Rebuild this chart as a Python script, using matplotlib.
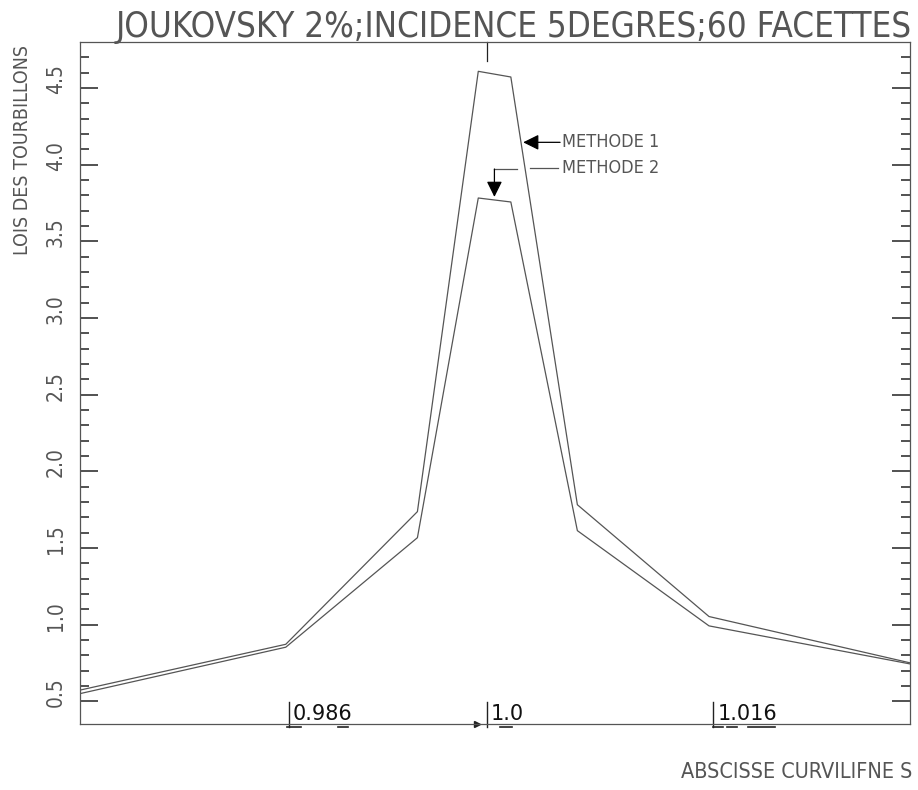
import matplotlib
matplotlib.use("Agg")
import matplotlib.pyplot as plt
import matplotlib.transforms as mtransforms
import numpy as np

# abscisse curviligne des points de controle
s = [0.9713, 0.9858, 0.9951, 0.9994, 1.0017, 1.0064, 1.0157, 1.0299]
methode1 = [0.575, 0.873, 1.738, 4.609, 4.572, 1.783, 1.054, 0.752]
methode2 = [0.552, 0.854, 1.568, 3.783, 3.757, 1.614, 0.993, 0.745]

x_marks = [0.986, 1.0, 1.016]
x_mark_labels = ["0.986", "1.0", "1.016"]
y_major = [0.5, 1.0, 1.5, 2.0, 2.5, 3.0, 3.5, 4.0, 4.5]
y_minor = [round(0.5 + 0.1 * i, 1) for i in range(43)]

grey = "#555555"
thin = dict(family="DejaVu Sans", stretch="condensed", weight="light", color=grey)

fig = plt.figure(figsize=(9.18, 7.90), dpi=100)
ax = fig.add_axes([0.0871, 0.0835, 0.9042, 0.8633])

ax.plot(s, methode1, color=grey, lw=0.9)
ax.plot(s, methode2, color=grey, lw=0.9)

ax.set_xlim(0.97126, 1.0299)
ax.set_ylim(0.353, 4.80)

for sp in ax.spines.values():
    sp.set_color(grey)
    sp.set_linewidth(0.9)

ax.set_xticks([])
ax.set_yticks(y_major)
ax.set_yticks(y_minor, minor=True)
ax.set_yticklabels(["%.1f" % v for v in y_major], rotation=90, va="center",
                   fontsize=15, **thin)
ax.tick_params(axis="y", which="both", direction="in", left=True, right=True,
               color="#222222", width=1.1, pad=10)
ax.tick_params(axis="y", which="major", length=13)
ax.tick_params(axis="y", which="minor", length=6.5)
shift = mtransforms.ScaledTranslation(0, 0.09, fig.dpi_scale_trans)
for lab in ax.get_yticklabels():
    lab.set_transform(lab.get_transform() + shift)

# reperes sur l'axe des abscisses
for xv, txt in zip(x_marks, x_mark_labels):
    ax.axvline(xv, ymin=-0.004, ymax=0.032, color="#222222", lw=1.0, clip_on=False)
    ax.annotate(txt, xy=(xv, 0), xycoords=("data", "axes fraction"),
                xytext=(4, 4), textcoords="offset pixels", ha="left", va="baseline",
                fontsize=15, color="#111111")

# petits soulignements sous les reperes
under = [(0.98590, 0.98689), (0.98949, 0.99020), (1.00094, 1.00179),
         (1.01600, 1.01671), (1.01699, 1.01770), (1.01847, 1.02038)]
for a, b in under:
    ax.plot([a, b], [-0.004, -0.004], color="#222222", lw=1.2,
            transform=ax.get_xaxis_transform(), clip_on=False)

# repere en haut et fleche sur l'axe
ax.plot([1.0, 1.0], [1.0, 0.972], color="#222222", lw=0.9,
        transform=ax.get_xaxis_transform(), clip_on=False)
ax.plot([0.99929], [0.0], marker=">", ms=4, color="#222222",
        transform=ax.get_xaxis_transform(), clip_on=False)

# legendes fleches
ax.annotate("", xy=(1.00257, 4.146), xytext=(1.00518, 4.146),
            arrowprops=dict(arrowstyle="-|>,head_length=0.95,head_width=0.47",
                            color="black", lw=0.9, shrinkA=0, shrinkB=0))
ax.text(1.00528, 4.146, "METHODE 1", ha="left", va="center", fontsize=13, **thin)

ax.plot([1.00306, 1.00504], [3.979, 3.979], color=grey, lw=0.9)
ax.plot([1.00054, 1.00212], [3.972, 3.972], color=grey, lw=0.9)
ax.annotate("", xy=(1.00054, 3.79), xytext=(1.00054, 3.972),
            arrowprops=dict(arrowstyle="-|>,head_length=0.95,head_width=0.47",
                            color="black", lw=0.9, shrinkA=0, shrinkB=0))
ax.text(1.00528, 3.979, "METHODE 2", ha="left", va="center", fontsize=13, **thin)

fig.text(0.9935, 0.953, "JOUKOVSKY 2%;INCIDENCE 5DEGRES;60 FACETTES",
         ha="right", va="baseline", fontsize=25, **thin)
fig.text(0.025, 0.81, "LOIS DES TOURBILLONS", rotation=90, ha="center",
         va="center", fontsize=14, **thin)
fig.text(0.9935, 0.01, "ABSCISSE CURVILIFNE S", ha="right",
         va="bottom", fontsize=15.5, **thin)

fig.savefig("out.png", dpi=100)
